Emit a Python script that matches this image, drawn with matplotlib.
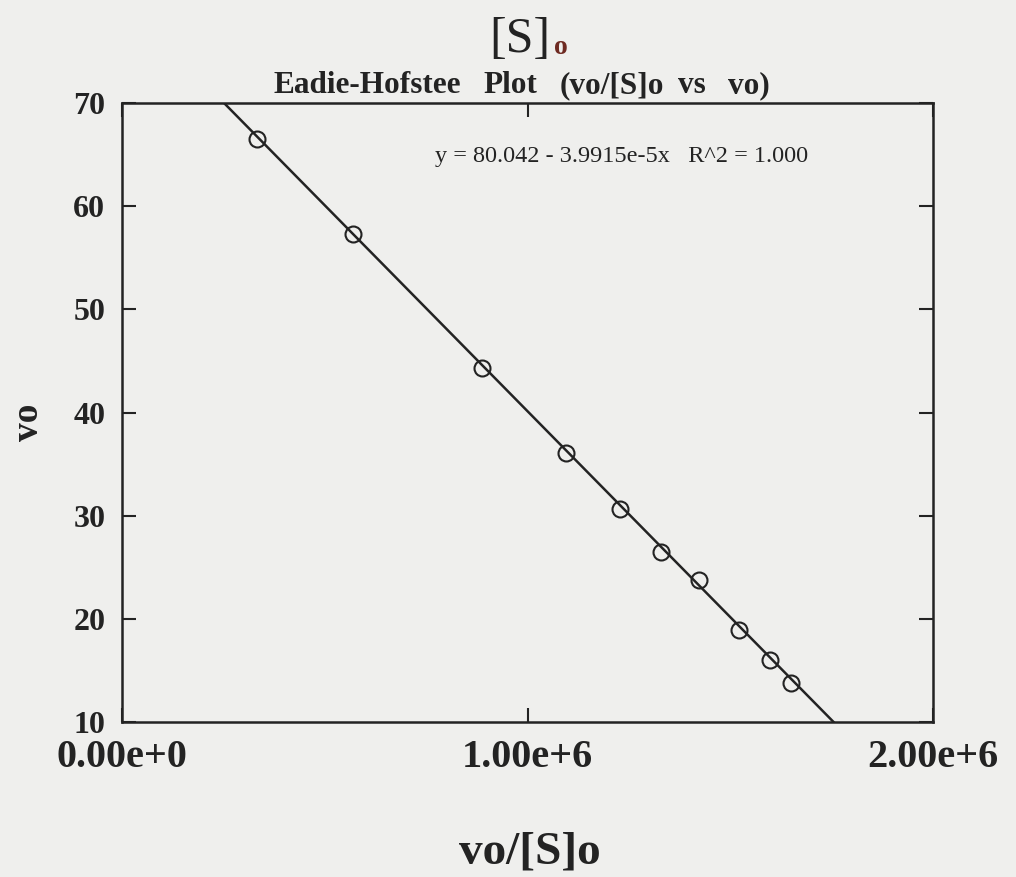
import numpy as np
import matplotlib
matplotlib.use("Agg")
import matplotlib.pyplot as plt

# ───────────── data ─────────────
vo_over_s = [3.33e5, 5.70e5, 8.87e5, 1.094e6, 1.228e6, 1.329e6,
             1.422e6, 1.521e6, 1.598e6, 1.649e6]
vo = [66.5, 57.3, 44.3, 36.1, 30.6, 26.5, 23.8, 18.9, 16.0, 13.8]

# fit reported on the chart
intercept = 80.042
slope = -3.9915e-5
fit_label = "y = 80.042 - 3.9915e-5x   R^2 = 1.000"

x_ticks = [0, 1e6, 2e6]
x_ticklabels = ["0.00e+0", "1.00e+6", "2.00e+6"]
y_ticks = [10, 20, 30, 40, 50, 60, 70]

# subtitle words (spaced out like the scan)
subtitle_words = ["Eadie-Hofstee", "Plot", "(vo/[S]o", "vs", "vo)"]
subtitle_left_px = [273, 483, 560, 678, 728]

BG = "#efefed"
INK = "#232323"
SERIF = ["Liberation Serif", "DejaVu Serif"]
W, H = 1016, 877

plt.rcParams["font.family"] = SERIF

fig = plt.figure(figsize=(W / 100, H / 100), dpi=100, facecolor=BG)
ax = fig.add_axes([122 / W, 1 - 722 / H, 811 / W, 619 / H], facecolor=BG)

# regression line across the plot window
xl = np.array([0, 2e6])
ax.plot(xl, intercept + slope * xl, color=INK, lw=1.8, zorder=2)
ax.plot(vo_over_s, vo, linestyle="none", marker="o", ms=11.5,
        mfc="none", mec=INK, mew=1.5, zorder=3)

ax.set_xlim(0, 2e6)
ax.set_ylim(10, 70)
ax.set_xticks(x_ticks)
ax.set_xticklabels(x_ticklabels, fontsize=29, fontweight="bold", color=INK)
ax.set_yticks(y_ticks)
ax.set_yticklabels([str(v) for v in y_ticks], fontsize=23, fontweight="bold", color=INK)

ax.tick_params(direction="in", top=True, right=True, length=10, width=1.5, color=INK)
ax.tick_params(axis="y", pad=12)
ax.tick_params(axis="x", pad=12)
for s in ax.spines.values():
    s.set_linewidth(1.8)
    s.set_color(INK)

ax.text((435 - 122) / 811, (722 - 162) / 619, fit_label, transform=ax.transAxes,
        fontsize=17.5, color=INK, va="baseline", ha="left")

# axis titles
fig.text(530 / W, 1 - 852 / H, "vo/[S]o", fontsize=34, fontweight="bold",
         color=INK, ha="center", va="center")
fig.text(29 / W, 1 - 422 / H, "vo", fontsize=27, fontweight="bold",
         color=INK, ha="center", va="center", rotation=90)

# titles
fig.text(520 / W, 1 - 40 / H, "[S]", fontsize=36, color=INK, ha="center", va="center")
fig.text(561 / W, 1 - 48 / H, "o", fontsize=20, fontweight="bold", color="#6e2a22",
         ha="center", va="center")
for word, left in zip(subtitle_words, subtitle_left_px):
    fig.text(left / W, 1 - 93 / H, word, fontsize=22.5, fontweight="bold",
             color=INK, ha="left", va="baseline")

fig.savefig("out.png", dpi=100, facecolor=BG)
